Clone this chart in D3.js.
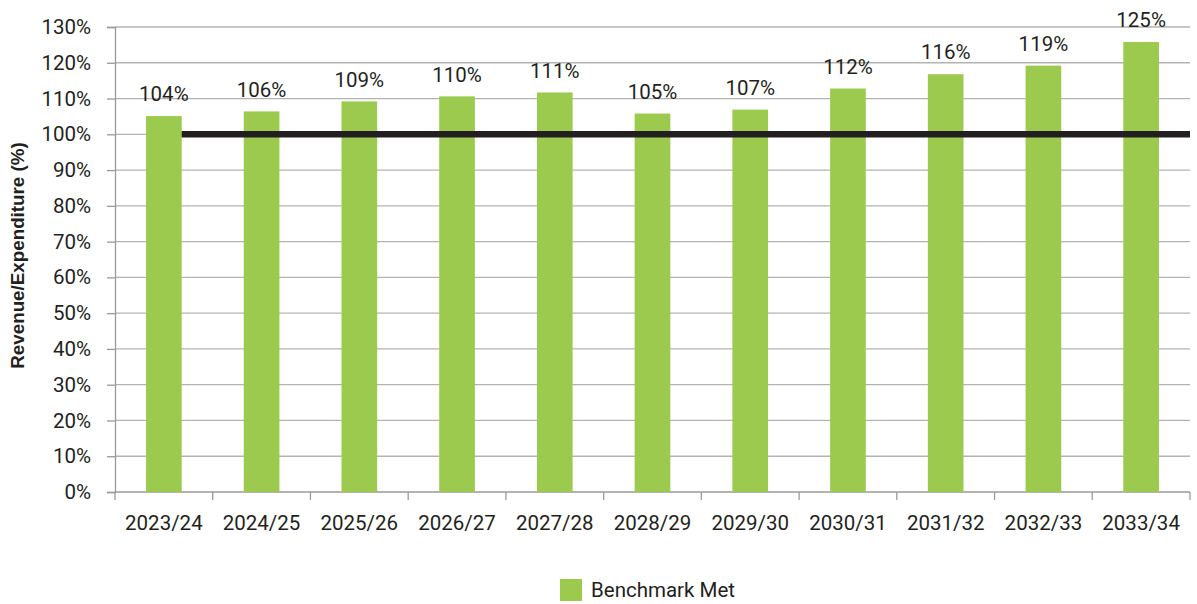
<!DOCTYPE html>
<html lang="en">
<head>
<meta charset="UTF-8">
<title>Revenue/Expenditure</title>
<script src="https://d3js.org/d3.v7.min.js"></script>
<style>
  body { margin: 0; background: #fff; }
  .chart text { fill: #231f20; }
</style>
</head>
<body>
<div class="chart"></div>
<script>
  // data
  const years = ["2023/24", "2024/25", "2025/26", "2026/27", "2027/28", "2028/29",
                 "2029/30", "2030/31", "2031/32", "2032/33", "2033/34"]
  const ratio = [105.1, 106.4, 109.2, 110.6, 111.7, 105.8, 106.9, 112.8, 116.8, 119.2, 125.8]
  const ratioLabels = ["104%", "106%", "109%", "110%", "111%", "105%", "107%", "112%", "116%", "119%", "125%"]
  const yTicks = [0, 10, 20, 30, 40, 50, 60, 70, 80, 90, 100, 110, 120, 130]
  const benchmark = 100

  const svgWidth = 1197, svgHeight = 604
  const margin = {top: 27, right: 7, bottom: 112, left: 115}
  const width = svgWidth - margin.left - margin.right
  const height = svgHeight - margin.top - margin.bottom

  const svg = d3.select(".chart").append("svg")
      .attr("width", svgWidth)
      .attr("height", svgHeight)
  const g = svg.append("g")
      .attr("transform", `translate(${margin.left},${margin.top})`)

  const x = d3.scaleBand()
    .domain(years)
    .range([0, width])
    .paddingInner(0.635)
    .paddingOuter(0.3175)

  const y = d3.scaleLinear()
    .domain([0, 130])
    .range([height, 0])

  const font = "Roboto, 'DejaVu Sans', sans-serif"
  const fs = 20.5

  // gridlines
  g.append("g")
    .selectAll("line")
    .data(yTicks.filter(d => d > 0))
    .join("line")
      .attr("x1", 0).attr("x2", width)
      .attr("y1", d => y(d)).attr("y2", d => y(d))
      .attr("stroke", "#b3b3b3")
      .attr("stroke-width", 1.3)

  // y axis
  const yAxis = g.append("g")
    .call(d3.axisLeft(y).tickValues(yTicks).tickFormat(d => d + "%").tickSize(8).tickPadding(16))
  yAxis.select(".domain").attr("stroke", "#9a9a9a").attr("stroke-width", 1.3)
  yAxis.selectAll(".tick line").attr("stroke", "#9a9a9a").attr("stroke-width", 1.3)
  yAxis.selectAll("text")
    .attr("font-family", font).attr("font-size", fs).attr("fill", "#231f20")

  // x axis, ticks between categories
  const xAxis = g.append("g")
    .attr("transform", `translate(0,${height})`)
  xAxis.append("line")
    .attr("x1", 0).attr("x2", width)
    .attr("stroke", "#9a9a9a").attr("stroke-width", 1.3)
  xAxis.selectAll(".sep")
    .data(d3.range(years.length + 1))
    .join("line")
      .attr("class", "sep")
      .attr("x1", i => i * x.step()).attr("x2", i => i * x.step())
      .attr("y1", 0).attr("y2", 8)
      .attr("stroke", "#9a9a9a").attr("stroke-width", 1.3)
  xAxis.selectAll(".lbl")
    .data(years)
    .join("text")
      .attr("class", "lbl")
      .attr("x", d => x(d) + x.bandwidth() / 2)
      .attr("y", 31)
      .attr("dy", "0.35em")
      .attr("text-anchor", "middle")
      .attr("font-family", font).attr("font-size", fs)
      .text(d => d)

  // bars
  g.append("g")
    .selectAll("rect")
    .data(ratio)
    .join("rect")
      .attr("x", (d, i) => x(years[i]))
      .attr("y", d => y(d))
      .attr("width", x.bandwidth())
      .attr("height", d => height - y(d))
      .attr("fill", "#9bca4f")

  // benchmark line at 100%
  g.append("line")
    .attr("x1", x(years[0]) + x.bandwidth())
    .attr("x2", width)
    .attr("y1", y(benchmark)).attr("y2", y(benchmark))
    .attr("stroke", "#231f20")
    .attr("stroke-width", 6.5)

  // value labels
  g.append("g")
    .selectAll("text")
    .data(ratio)
    .join("text")
      .attr("x", (d, i) => x(years[i]) + x.bandwidth() / 2)
      .attr("y", d => y(d) - 22)
      .attr("dy", "0.35em")
      .attr("text-anchor", "middle")
      .attr("font-family", font).attr("font-size", fs)
      .text((d, i) => ratioLabels[i])

  // y title
  svg.append("text")
    .attr("transform", `translate(24,${margin.top + y(65) - 4}) rotate(-90)`)
    .attr("text-anchor", "middle")
    .attr("font-family", "'Liberation Sans', Arial, sans-serif")
    .attr("font-size", 18.8)
    .attr("font-weight", "bold")
    .text("Revenue/Expenditure (%)")

  // legend
  const legend = svg.append("g").attr("transform", "translate(560,579)")
  legend.append("rect")
    .attr("width", 22).attr("height", 22)
    .attr("fill", "#9bca4f")
  legend.append("text")
    .attr("x", 31).attr("y", 11).attr("dy", "0.35em")
    .attr("font-family", font).attr("font-size", fs)
    .text("Benchmark Met")
</script>
</body>
</html>
